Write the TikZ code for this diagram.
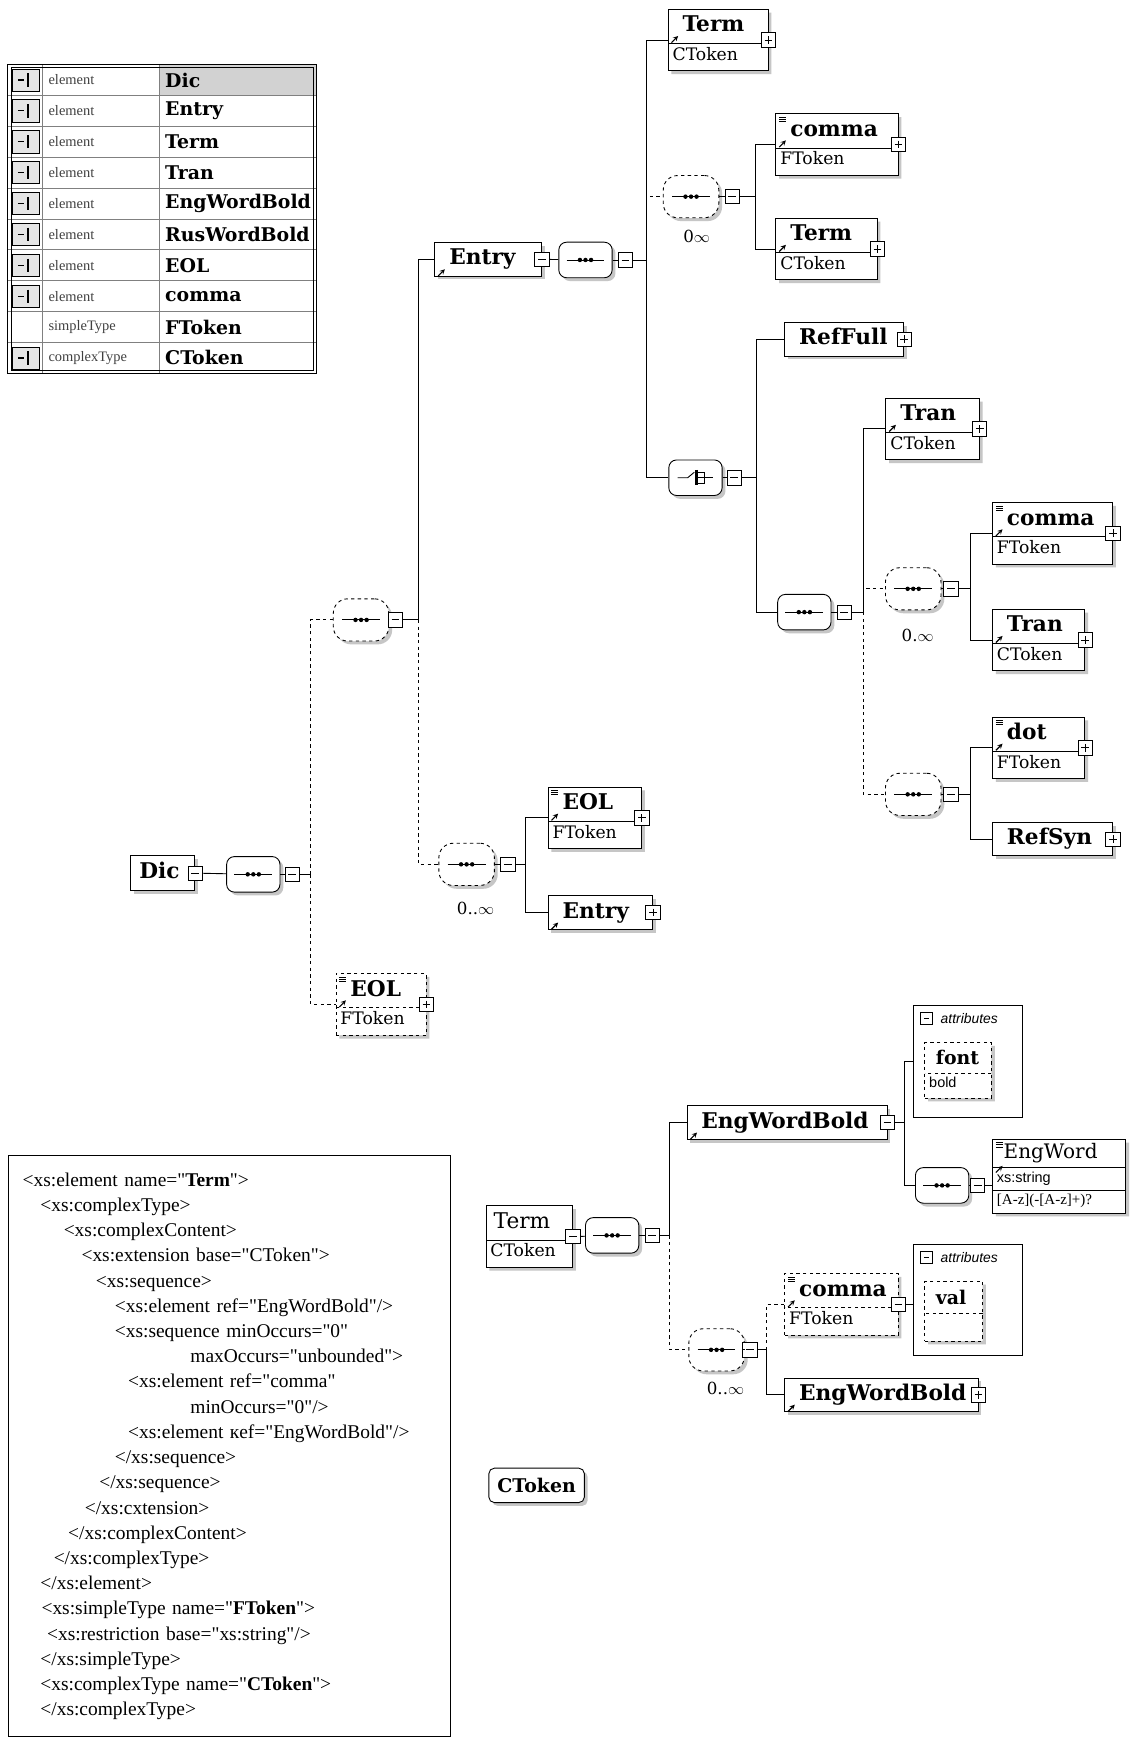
\documentclass[tikz,border=0pt]{standalone}
\usepackage{fontspec}
\setmainfont{Liberation Serif}
\newfontfamily\namefont{DejaVu Serif}
\newfontfamily\sansfont{Liberation Sans}
\usetikzlibrary{shapes.multipart,shadows}

% fonts and struts for the element boxes
\newcommand{\nmf}{\namefont\bfseries\fontsize{19.5}{19.5}\selectfont}
\newcommand{\tpf}{\namefont\fontsize{15.5}{15.5}\selectfont}
\newcommand{\nm}[1]{\rule[-7pt]{0pt}{24pt}\hspace{9pt}#1}
\newcommand{\tp}[1]{\rule[-6pt]{0pt}{14pt}#1}
\newcommand{\q}{\textquotedbl}

\tikzset{
  shade/.style={drop shadow={shadow xshift=3pt, shadow yshift=-3pt, fill=gray!45, opacity=1}},
  box/.style={draw, fill=white, line width=0.8pt, inner xsep=4pt, inner ysep=3pt, shade, anchor=north west, align=left},
  elone/.style={box, text width=#1, font=\nmf},
  elsplit/.style={box, rectangle split, rectangle split parts=2, text width=#1},
  pm/.style={draw, fill=white, line width=0.7pt, minimum size=13pt, inner sep=0pt},
  mns/.style={pm, path picture={\draw[solid, line width=0.8pt] ([xshift=3pt]path picture bounding box.west) -- ([xshift=-3pt]path picture bounding box.east);}},
  pls/.style={pm, path picture={\draw[solid, line width=0.8pt] ([xshift=3pt]path picture bounding box.west) -- ([xshift=-3pt]path picture bounding box.east) ([yshift=-3pt]path picture bounding box.north) -- ([yshift=3pt]path picture bounding box.south);}},
  refm/.style={path picture={\draw[solid, line width=1pt,-stealth] ([shift={(3pt,-30pt)}]path picture bounding box.north west) -- ++(6pt,6pt);}},
  reflist/.style={path picture={\draw[solid, line width=1pt,-stealth] ([shift={(3pt,-30pt)}]path picture bounding box.north west) -- ++(6pt,6pt);
      \foreach \k in {3,5,7} \draw[solid, line width=0.6pt] ([shift={(3pt,-\k pt)}]path picture bounding box.north west) -- ++(6pt,0pt);}},
  seq/.style={draw, fill=white, line width=0.8pt, rounded corners=7pt, minimum width=48pt, minimum height=32pt, inner sep=0pt, shade,
      path picture={\draw[solid, line width=0.8pt] ([xshift=-17pt]path picture bounding box.center) -- ([xshift=17pt]path picture bounding box.center);
      \foreach \d in {-5,0,5} \fill[black] ([xshift=\d pt]path picture bounding box.center) circle (2pt);}},
  oseq/.style={seq, dashed, rounded corners=13pt, minimum height=38pt, minimum width=50pt},
  choice/.style={draw, fill=white, line width=0.8pt, rounded corners=7pt, minimum width=48pt, minimum height=32pt, inner sep=0pt, shade,
      path picture={\draw[sharp corners, line width=0.8pt] ([xshift=-16pt]path picture bounding box.center) -- ([xshift=-7pt]path picture bounding box.center) -- ([xshift=-1pt,yshift=5pt]path picture bounding box.center);
      \draw[sharp corners, line width=2.2pt] ([xshift=1pt,yshift=7pt]path picture bounding box.center) -- ([xshift=1pt,yshift=-7pt]path picture bounding box.center);
      \draw[sharp corners, line width=0.8pt] ([xshift=1pt,yshift=5pt]path picture bounding box.center) -- ([xshift=8pt,yshift=5pt]path picture bounding box.center) -- ([xshift=8pt,yshift=-5pt]path picture bounding box.center) -- ([xshift=1pt,yshift=-5pt]path picture bounding box.center);
      \draw[sharp corners, line width=0.8pt] ([xshift=1pt]path picture bounding box.center) -- ([xshift=16pt]path picture bounding box.center);}},
  card/.style={font=\namefont\fontsize{15}{15}\selectfont},
  attrbox/.style={draw, line width=0.8pt, anchor=north west, minimum width=98pt, minimum height=100pt},
  attrtxt/.style={font=\sansfont\itshape\fontsize{12.5}{12.5}\selectfont, anchor=west},
  tabtype/.style={font=\fontsize{13}{13}\selectfont, anchor=west, text=black!75},
  tabname/.style={font=\namefont\bfseries\fontsize{17}{17}\selectfont, anchor=west}
}

\begin{document}
\begin{tikzpicture}[x=1pt, y=-1pt, line width=0.8pt]
\fill[white] (0,0) rectangle (1017,1568);
\useasboundingbox (0,0) rectangle (1017,1568);

% Component table
\fill[gray!35] (143,58) rectangle (285,86);
\foreach \i in {1,...,9} \draw[gray, line width=0.5pt] (7,{58+27.8*\i}) -- (285,{58+27.8*\i});
\draw[gray, line width=0.5pt] (38,58) -- (38,336);
\draw[gray, line width=0.5pt] (143,58) -- (143,336);
\draw[line width=1.2pt] (7,58) rectangle (285,336);
\draw[line width=0.5pt] (10,61) rectangle (282,333);
\foreach \i in {0,...,7,9} {
  \draw[fill=gray!20, line width=0.6pt] (11,{62+27.8*\i}) rectangle (35,{82+27.8*\i});
  \draw[line width=1pt] (16,{72+27.8*\i}) -- (22,{72+27.8*\i});
  \draw[line width=1.8pt] (25,{66+27.8*\i}) -- (25,{78+27.8*\i});
}
\foreach \i/\t/\n in {0/element/Dic, 1/element/Entry, 2/element/Term, 3/element/Tran, 4/element/EngWordBold,
    5/element/RusWordBold, 6/element/EOL, 7/element/comma, 8/simpleType/FToken, 9/complexType/CToken} {
  \node[tabtype] (ty\i) at (40,{72+27.8*\i}) {\t};
  \node[tabname] (nm\i) at (145,{72+27.8*\i}) {\n};
}

% Dic tree
\node[elone=50pt, inner xsep=4pt] (dicA) at (117,770) {\rule[-8pt]{0pt}{25pt}\hspace{4pt}Dic};
\node[mns] (dicAm) at (dicA.east) {};
\node[seq] (seqDic) at (228,787) {};
\node[mns] (seqDicm) at (263,787) {};
\node[oseq] (seqM) at (325,558) {};
\node[mns] (seqMm) at (356,558) {};
\node[elsplit=73pt, dashed, reflist] (eolB) at (302,876) {\nmf\nm{EOL}\nodepart{two}\tpf\tp{FToken}};
\node[pls] (eolBp) at (eolB.east) {};
\node[elone=88pt, refm] (entryA) at (391,218) {\nm{Entry}};
\node[mns] (entryAm) at (entryA.east) {};
\node[seq] (seqE) at (527,234) {};
\node[mns] (seqEm) at (563,234) {};
\node[oseq] (seqN) at (420,778) {};
\node[mns] (seqNm) at (457,778) {};
\node[card] (card3) at (428,818) {0..$\infty$};
\node[elsplit=76pt, reflist] (eolA) at (493,708) {\nmf\nm{EOL}\nodepart{two}\tpf\tp{FToken}};
\node[pls] (eolAp) at (eolA.east) {};
\node[elone=86pt, refm] (entryB) at (493,806) {\nm{Entry}};
\node[pls] (entryBp) at (entryB.east) {};

% Entry content
\node[elsplit=82pt, refm] (termA) at (601,8) {\nmf\nm{Term}\nodepart{two}\tpf\tp{CToken}};
\node[pls] (termAp) at (termA.east) {};
\node[oseq] (seqT) at (622,177) {};
\node[mns] (seqTm) at (659,177) {};
\node[card] (card1) at (627,213) {0$\infty$};
\node[elsplit=102pt, reflist] (commaA) at (698,102) {\nmf\nm{comma}\nodepart{two}\tpf\tp{FToken}};
\node[pls] (commaAp) at (commaA.east) {};
\node[elsplit=83pt, refm] (termB) at (698,196) {\nmf\nm{Term}\nodepart{two}\tpf\tp{CToken}};
\node[pls] (termBp) at (termB.east) {};
\node[choice] (choiceA) at (626,430) {};
\node[mns] (choiceAm) at (661,430) {};
\node[elone=99pt] (refFull) at (706,290) {\nm{RefFull}};
\node[pls] (refFullp) at (refFull.east) {};
\node[seq] (seqS) at (724,551) {};
\node[mns] (seqSm) at (760,551) {};
\node[elsplit=76pt, refm] (tranA) at (797,358) {\nmf\nm{Tran}\nodepart{two}\tpf\tp{CToken}};
\node[pls] (tranAp) at (tranA.east) {};
\node[oseq] (seqD) at (822,530) {};
\node[mns] (seqDm) at (856,530) {};
\node[card] (card2) at (826,572) {0.$\infty$};
\node[elsplit=100pt, reflist] (commaB) at (893,452) {\nmf\nm{comma}\nodepart{two}\tpf\tp{FToken}};
\node[pls] (commaBp) at (commaB.east) {};
\node[elsplit=75pt, refm] (tranB) at (893,548) {\nmf\nm{Tran}\nodepart{two}\tpf\tp{CToken}};
\node[pls] (tranBp) at (tranB.east) {};
\node[oseq] (seqBot) at (822,715) {};
\node[mns] (seqBotm) at (856,715) {};
\node[elsplit=75pt, reflist] (dotA) at (893,645) {\nmf\nm{dot}\nodepart{two}\tpf\tp{FToken}};
\node[pls] (dotAp) at (dotA.east) {};
\node[elone=100pt] (refSyn) at (893,740) {\nm{RefSyn}};
\node[pls] (refSynp) at (refSyn.east) {};

% Term content
\node[elsplit=70pt] (termC) at (437,1085) {\namefont\fontsize{19.5}{19.5}\selectfont\rule[-7pt]{0pt}{24pt}\hspace{3pt}Term\nodepart{two}\tpf\tp{CToken}};
\node[mns] (termCm) at (termC.east) {};
\node[seq] (seqC) at (551,1112) {};
\node[mns] (seqCm) at (587,1112) {};
\node[elone=172pt, refm] (ewb1) at (618,995) {\nm{EngWordBold}};
\node[mns] (ewb1m) at (ewb1.east) {};
\node[attrbox] (attrA) at (822,905) {};
\node[mns, minimum size=11pt] (attrAm) at (834,917) {};
\node[attrtxt] (attrAt) at (843,917) {attributes};
\node[box, dashed, rectangle split, rectangle split parts=2, text width=52pt] (fontA) at (832,938)
  {\namefont\bfseries\fontsize{17}{17}\selectfont\rule[-5pt]{0pt}{21pt}\hspace{6pt}font\nodepart{two}\sansfont\fontsize{13}{13}\selectfont\tp{bold}};
\node[seq] (seqW) at (848,1067) {};
\node[mns] (seqWm) at (880,1067) {};
\node[box, rectangle split, rectangle split parts=3, text width=112pt, reflist] (engWord) at (893,1025)
  {\namefont\fontsize{18}{18}\selectfont\rule[-5pt]{0pt}{17pt}\hspace{6pt}EngWord\nodepart{two}\sansfont\fontsize{13}{13}\selectfont\rule[-4pt]{0pt}{14pt}xs:string\nodepart{three}\fontsize{13.5}{13.5}\selectfont\rule[-4pt]{0pt}{13pt}[A-z](-[A-z]+)?};
\node[oseq] (seqC2) at (645,1215) {};
\node[mns] (seqC2m) at (675,1215) {};
\node[card] (card4) at (653,1250) {0..$\infty$};
\node[elsplit=94pt, dashed, reflist] (commaC) at (706,1146) {\nmf\nm{comma}\nodepart{two}\tpf\tp{FToken}};
\node[mns] (commaCm) at (commaC.east) {};
\node[attrbox] (attrB) at (822,1120) {};
\node[mns, minimum size=11pt] (attrBm) at (834,1132) {};
\node[attrtxt] (attrBt) at (843,1132) {attributes};
\node[box, dashed, rectangle split, rectangle split parts=2, text width=44pt] (valA) at (832,1153)
  {\namefont\bfseries\fontsize{17}{17}\selectfont\rule[-5pt]{0pt}{22pt}\hspace{6pt}val\nodepart{two}\rule[-4pt]{0pt}{18pt}};
\node[elone=166pt, refm] (ewb2) at (706,1240) {\nm{EngWordBold}};
\node[pls] (ewb2p) at (ewb2.east) {};
\node[draw, fill=white, rounded corners=5pt, shade, minimum width=86pt, minimum height=31pt, font=\namefont\bfseries\fontsize{17}{17}\selectfont] (ctok) at (483,1337) {CToken};

% Connectors: Dic
\draw (dicAm) -- (seqDic);
\draw (seqDic) -- (seqDicm);
\draw[dashed] ([xshift=10pt]seqDicm.east) |- (seqM.west);
\draw[dashed] ([xshift=10pt]seqDicm.east) |- (eolB.west);
\draw (seqDicm.east) -- ++(10,0);
\draw (seqM) -- (seqMm);
\draw[dashed] ([xshift=14pt]seqMm.east) |- (seqN.west);
\draw ([xshift=14pt]seqMm.east) |- (entryA.west);
\draw (seqMm.east) -- ++(14,0);
\draw (seqN) -- (seqNm);
\draw ([xshift=9pt]seqNm.east) |- (eolA.west);
\draw ([xshift=9pt]seqNm.east) |- (entryB.west);
\draw (seqNm.east) -- ++(9,0);

% Connectors: Entry
\draw (entryAm) -- (seqE);
\draw (seqE) -- (seqEm);
\draw[dashed] ([xshift=12pt]seqEm.east) |- (seqT.west);
\draw ([xshift=12pt]seqEm.east) |- (termA.west);
\draw ([xshift=12pt]seqEm.east) |- (choiceA.west);
\draw (seqEm.east) -- ++(12,0);
\draw (seqT) -- (seqTm);
\draw ([xshift=14pt]seqTm.east) |- (commaA.west);
\draw ([xshift=14pt]seqTm.east) |- (termB.west);
\draw (seqTm.east) -- ++(14,0);
\draw (choiceA) -- (choiceAm);
\draw ([xshift=13pt]choiceAm.east) |- (refFull.west);
\draw ([xshift=13pt]choiceAm.east) |- (seqS.west);
\draw (choiceAm.east) -- ++(13,0);
\draw (seqS) -- (seqSm);
\draw ([xshift=10pt]seqSm.east) |- (tranA.west);
\draw[dashed] ([xshift=10pt]seqSm.east) |- (seqD.west);
\draw[dashed] ([xshift=10pt]seqSm.east) |- (seqBot.west);
\draw (seqSm.east) -- ++(10,0);
\draw (seqD) -- (seqDm);
\draw ([xshift=11pt]seqDm.east) |- (commaB.west);
\draw ([xshift=11pt]seqDm.east) |- (tranB.west);
\draw (seqDm.east) -- ++(11,0);
\draw (seqBot) -- (seqBotm);
\draw ([xshift=11pt]seqBotm.east) |- (dotA.west);
\draw ([xshift=11pt]seqBotm.east) |- (refSyn.west);
\draw (seqBotm.east) -- ++(11,0);

% Connectors: Term
\draw (termCm) -- (seqC);
\draw (seqC) -- (seqCm);
\draw ([xshift=9pt]seqCm.east) |- (ewb1.west);
\draw[dashed] ([xshift=9pt]seqCm.east) |- (seqC2.west);
\draw (seqCm.east) -- ++(9,0);
\draw ([xshift=8pt]ewb1m.east) |- (attrA.west);
\draw ([xshift=8pt]ewb1m.east) |- (seqW.west);
\draw (ewb1m.east) -- ++(8,0);
\draw (seqW) -- (seqWm);
\draw (seqWm.east) -- (seqWm.east -| engWord.west);
\draw (seqC2) -- (seqC2m);
\draw[dashed] ([xshift=8pt]seqC2m.east) |- (commaC.west);
\draw ([xshift=8pt]seqC2m.east) |- (ewb2.west);
\draw (seqC2m.east) -- ++(8,0);
\draw (commaCm.east) -- (commaCm.east -| attrB.west);

% XML source
\node[draw, line width=0.8pt, anchor=north west, minimum width=398pt, minimum height=523pt, text width=372pt,
  inner xsep=13pt, align=left, font=\fontsize{17.5}{22.7}\selectfont] (code) at (7,1040) {%
<xs:element name=\q\textbf{Term}\q>\\
\hspace*{16pt}<xs:complexType>\\
\hspace*{37pt}<xs:complexContent>\\
\hspace*{53pt}<xs:extension base=\q CToken\q>\\
\hspace*{66pt}<xs:sequence>\\
\hspace*{83pt}<xs:element ref=\q EngWordBold\q/>\\
\hspace*{83pt}<xs:sequence minOccurs=\q 0\q\\
\hspace*{151pt}maxOccurs=\q unbounded\q>\\
\hspace*{95pt}<xs:element ref=\q comma\q\\
\hspace*{151pt}minOccurs=\q 0\q/>\\
\hspace*{95pt}<xs:element кef=\q EngWordBold\q/>\\
\hspace*{83pt}</xs:sequence>\\
\hspace*{69pt}</xs:sequence>\\
\hspace*{56pt}</xs:cxtension>\\
\hspace*{41pt}</xs:complexContent>\\
\hspace*{28pt}</xs:complexType>\\
\hspace*{16pt}</xs:element>\\
\hspace*{17pt}<xs:simpleType name=\q\textbf{FToken}\q>\\
\hspace*{22pt}<xs:restriction base=\q xs:string\q/>\\
\hspace*{16pt}</xs:simpleType>\\
\hspace*{16pt}<xs:complexType name=\q\textbf{CToken}\q>\\
\hspace*{16pt}</xs:complexType>};
\end{tikzpicture}
\end{document}
